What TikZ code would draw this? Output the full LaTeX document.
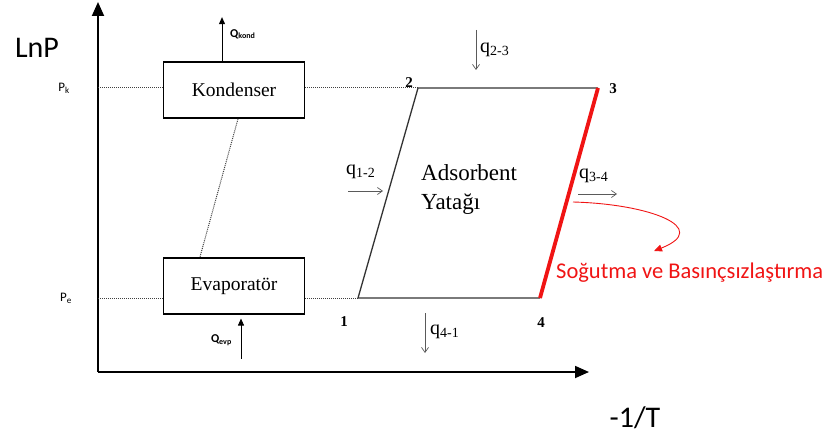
\documentclass[tikz,border=0pt]{standalone}
\usepackage{fontspec}
\setmainfont{Liberation Serif}
\setsansfont{Carlito}
\usetikzlibrary{arrows.meta, positioning, calc}
\definecolor{coolred}{RGB}{240,20,20}
\definecolor{heatgray}{RGB}{90,90,90}

\begin{document}
\begin{tikzpicture}[x=1pt, y=-1pt,
      unit/.style={draw, line width=1.7pt, minimum width=141pt, minimum height=56pt, inner sep=0pt, font=\fontsize{19.5}{21}\selectfont},
      axis/.style={line width=1.8pt, -{Triangle[length=14pt, width=12pt]}},
      lvl/.style={densely dotted, line width=1pt, black!75},
      cyc/.style={line width=1.3pt, black!80},
      heat/.style={-{Straight Barb[length=5pt, width=7pt]}, line width=0.7pt, heatgray},
      ext/.style={-{Triangle[length=7pt, width=6pt]}, line width=0.9pt},
      qlab/.style={font=\fontsize{20}{22}\selectfont, inner sep=0pt},
      ptlab/.style={font=\fontsize{15}{17}\selectfont\bfseries, inner sep=0pt},
      plab/.style={font=\sffamily\fontsize{13}{15}\selectfont, inner sep=0pt},
      qext/.style={font=\sffamily\bfseries\fontsize{12}{14}\selectfont, inner sep=0pt},
      ax/.style={font=\sffamily\fontsize{30}{32}\selectfont, inner sep=0pt},
    ]
    \useasboundingbox (0,0) rectangle (830,441);

    % axes
    \coordinate (o) at (98,372);
    \coordinate (ytop) at (98,2);
    \coordinate (xend) at (589,372);
    \draw[axis] (o) -- (ytop);
    \draw[axis] (o) -- (xend);
    \node[ax] (lnp) at (37,48) {LnP};
    \node[ax] (invt) at (635,418) {-1/T};

    % cycle corners
    \coordinate (p1) at (358,298);
    \coordinate (p2) at (418,88);
    \coordinate (p3) at (598,88);
    \coordinate (p4) at (540,298);

    % units
    \node[unit] (kond) at (234,90) {Kondenser};
    \node[unit, below=138pt of kond] (evap) {Evaporatör};

    % pressure levels
    \coordinate (pk) at (o |- p2);
    \coordinate (pe) at (o |- p1);
    \node[plab, left=28pt of pk] (pklab) {P\textsubscript{k}};
    \node[plab, left=26pt of pe] (pelab) {P\textsubscript{e}};
    \draw[lvl] (pk) -- (kond.west |- p2);
    \draw[lvl] (kond.east |- p2) -- (p2);
    \draw[lvl] (pe) -- (evap.west |- p1);
    \draw[lvl] (evap.east |- p1) -- (p1);
    \draw[lvl] ($(kond.south)+(4,0)$) -- ($(evap.north)+(-34,0)$);

    % external heat
    \coordinate (qk) at ($(kond.north)+(-12,-44)$);
    \coordinate (qe) at ($(evap.south)+(7,44)$);
    \draw[ext] ($(kond.north)+(-12,0)$) -- (qk);
    \draw[ext] (qe) -- ($(evap.south)+(7,4)$);
    \node[qext, right=8pt of qk, yshift=-17pt] (qklab) {Q\textsubscript{kond}};
    \node[qext, left=9pt of qe, yshift=18pt] (qelab) {Q\textsubscript{evp}};

    % cycle
    \draw[cyc] (p4) -- (p1) -- (p2) -- (p3);
    \draw[coolred, line width=3.8pt] (p3) -- (p4);
    \node[ptlab] (n1) at (344,322) {1};
    \node[ptlab] (n2) at (409,83) {2};
    \node[ptlab] (n3) at (613,89) {3};
    \node[ptlab] (n4) at (541,323) {4};
    \node[font=\fontsize{23}{29}\selectfont, align=left, anchor=west, inner sep=0pt] (bed) at (421,190) {Adsorbent\\Yatağı};

    % heat flows
    \coordinate (h23a) at (476,30);
    \coordinate (h23b) at (476,70);
    \draw[heat] (h23a) -- (h23b);
    \node[qlab, anchor=west] (q23) at (480,50) {q\textsubscript{2-3}};
    \coordinate (h12a) at (348,191);
    \coordinate (h12b) at (383,191);
    \draw[heat] (h12a) -- (h12b);
    \node[qlab, anchor=west] (q12) at (346,172) {q\textsubscript{1-2}};
    \coordinate (h34a) at (578,194);
    \coordinate (h34b) at (617,194);
    \draw[heat] (h34a) -- (h34b);
    \node[qlab, anchor=west] (q34) at (579,176) {q\textsubscript{3-4}};
    \coordinate (h41a) at (425,313);
    \coordinate (h41b) at (425,353);
    \draw[heat] (h41a) -- (h41b);
    \node[qlab, anchor=west] (q41) at (430,332) {q\textsubscript{4-1}};

    % cooling note
    \coordinate (cs) at (573,202);
    \coordinate (ce) at (654,251);
    \draw[coolred, line width=0.9pt, -{Triangle[length=8pt, width=7pt]}] (cs) .. controls (650,204) and (712,228) .. (ce);
    \node[font=\sffamily\fontsize{22.5}{24}\selectfont, text=coolred, anchor=west, inner sep=0pt] (cool) at (556,273) {Soğutma ve Basınçsızlaştırma};
  \end{tikzpicture}
\end{document}
